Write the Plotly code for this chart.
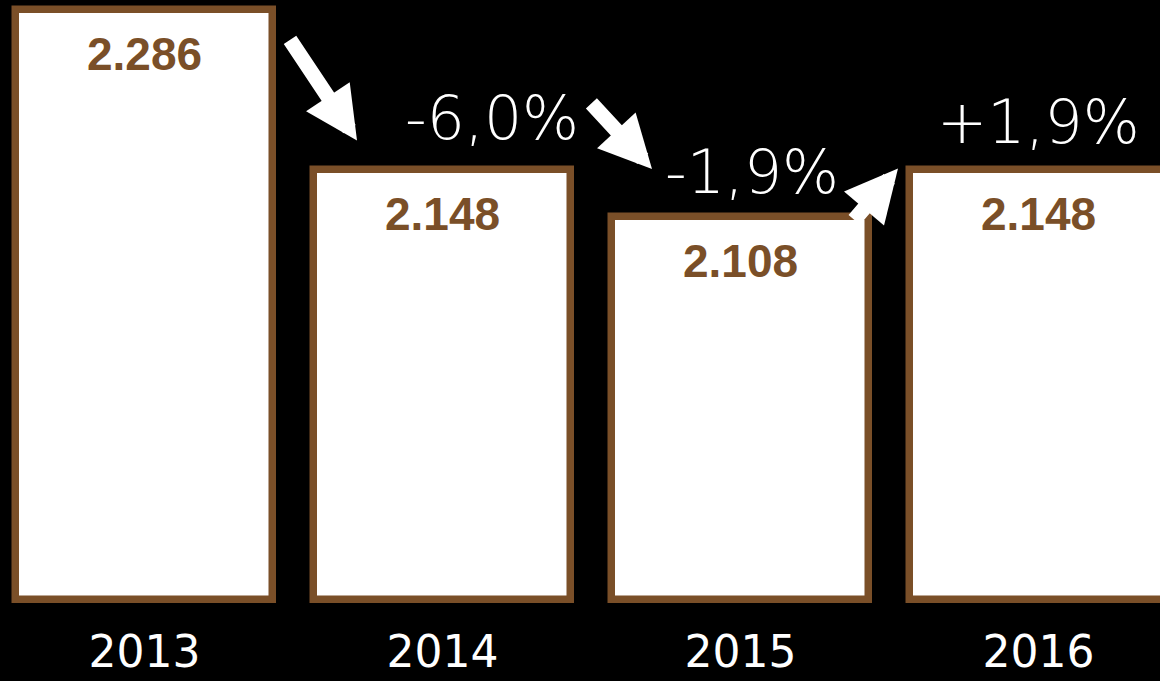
import plotly.graph_objects as go

# ---- data ----
years = ["2013", "2014", "2015", "2016"]
values = [2.286, 2.148, 2.108, 2.148]
value_labels = ["2.286", "2.148", "2.108", "2.148"]
change_labels = ["-6,0%", "-1,9%", "+1,9%"]

# ---- style ----
BROWN = "#7A4F28"
BASE = 1.7785
Y_TOP = 2.2946
Y_BOTTOM = 1.7656

xpos = list(range(len(years)))

fig = go.Figure()
fig.add_trace(go.Bar(
    x=xpos,
    y=[v - BASE for v in values],
    base=BASE,
    width=0.865,
    marker=dict(color="white", line=dict(color=BROWN, width=7.5)),
    hoverinfo="skip",
))

annotations = []
# value labels inside bars
for i, (v, lab) in enumerate(zip(values, value_labels)):
    annotations.append(dict(
        x=i, y=v, xref="x", yref="y", text=lab, showarrow=False,
        yanchor="middle", yshift=-44,
        font=dict(family="Liberation Sans, Arial", size=46, color=BROWN, weight="bold"),
    ))

pct_font = dict(family="DejaVu Sans", size=60, color="white", weight=200)
# change labels (placed relative to the bar they lead to)
pct_pos = [(1.1661, 1, 52), (2.0386, 2, 45), (3.0, 3, 48)]
for (xx, idx, ys), lab in zip(pct_pos, change_labels):
    annotations.append(dict(
        x=xx, y=values[idx], xref="x", yref="y", text=lab, showarrow=False,
        yanchor="middle", yshift=ys, font=pct_font,
    ))

# arrows
arrow_specs = [
    # tip x, bar idx, yshift, ax, ay
    (0.7131, 1, 30, -68, -102),
    (1.7030, 2, 48, -62, -67),
    (2.5285, 3, 2, -45, 53),
]
for xx, idx, ys, axp, ayp in arrow_specs:
    annotations.append(dict(
        x=xx, y=values[idx], xref="x", yref="y", text="", showarrow=True,
        ax=axp, ay=ayp, yshift=ys,
        arrowhead=2, arrowsize=0.7, arrowwidth=15, arrowcolor="white",
        standoff=0, startstandoff=0,
    ))

fig.update_layout(
    width=1160, height=681,
    paper_bgcolor="black", plot_bgcolor="black",
    margin=dict(l=0, r=0, t=0, b=66, autoexpand=False),
    showlegend=False,
    bargap=0,
    annotations=annotations,
    xaxis=dict(
        range=[-0.4849, 3.4077], tickmode="array", tickvals=xpos, ticktext=years,
        showgrid=False, zeroline=False, showline=False, ticks="",
        ticklabelstandoff=7, automargin=False,
        tickfont=dict(family="DejaVu Sans", size=44, color="white"),
        fixedrange=True,
    ),
    yaxis=dict(
        range=[Y_BOTTOM, Y_TOP], visible=False, showgrid=False, zeroline=False,
        fixedrange=True, automargin=False,
    ),
)

fig.write_html(
    "out.html",
    config={"displayModeBar": False},
    post_script="document.body.style.margin='0';document.body.style.background='black';"
                "document.documentElement.style.overflow='hidden';",
)
